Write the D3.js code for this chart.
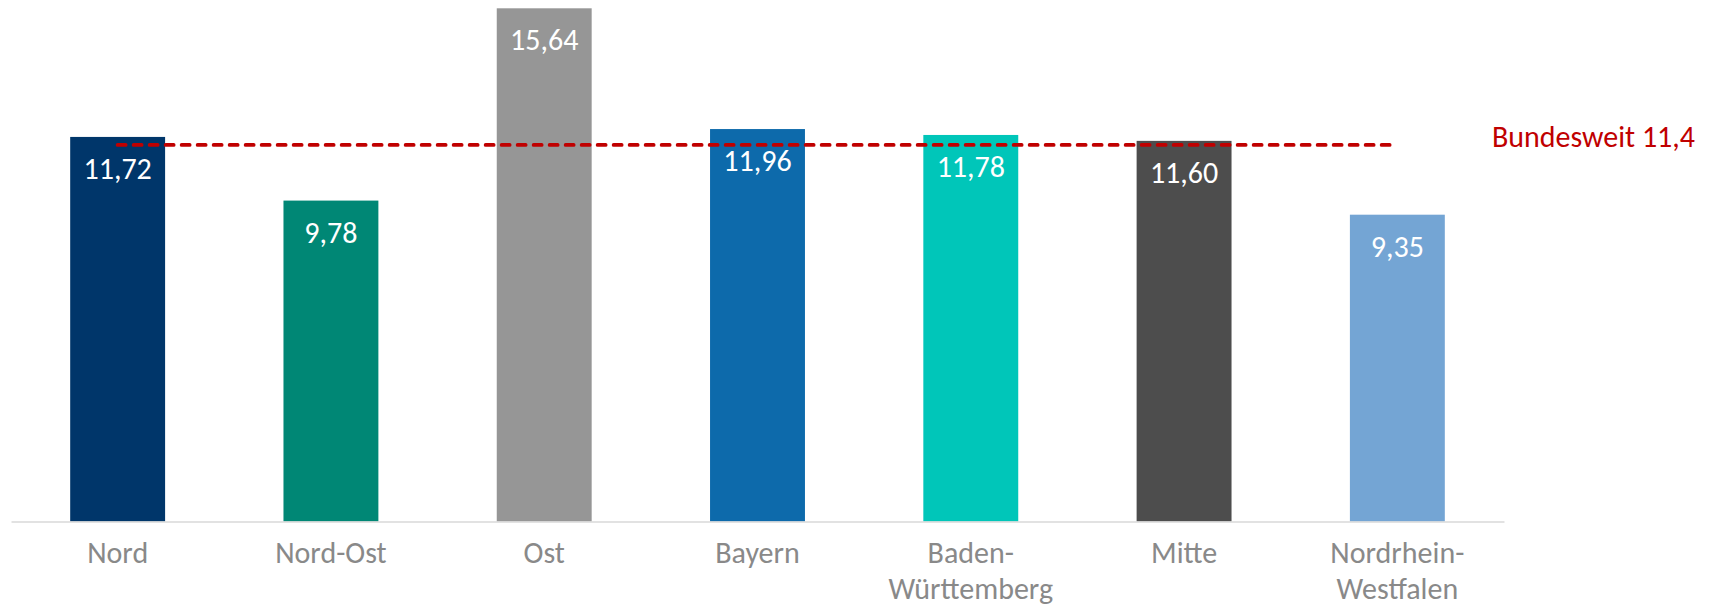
<!DOCTYPE html>
<html>
<head>
<meta charset="utf-8">
<script src="https://cdn.jsdelivr.net/npm/d3@7"></script>
<style>
    body { margin: 0; background: #fff; }
    svg { display: block; font-family: Carlito, Calibri, Lato, sans-serif; }
</style>
</head>
<body>
<svg id="chart"></svg>
<script>
// data
const regions = ["Nord", "Nord-Ost", "Ost", "Bayern", "Baden-\nWürttemberg", "Mitte", "Nordrhein-\nWestfalen"];
const values = [11.72, 9.78, 15.64, 11.96, 11.78, 11.60, 9.35];
const barColors = ["#00366a", "#008775", "#969696", "#0d6aab", "#00c6b9", "#4d4d4d", "#74a5d4"];
const nationalAvg = 11.4;
const nationalLabel = "Bundesweit 11,4";

const width = 1715, height = 608;
const baseY = 521.5;

const svg = d3.select("#chart")
    .attr("width", width)
    .attr("height", height);

const xScale = d3.scaleBand()
    .domain(regions)
    .range([11, 1504])
    .paddingInner(0.555)
    .paddingOuter(0.2775);

const yScale = d3.scaleLinear()
    .domain([0, 15.64])
    .range([baseY, 8.3]);

const fmt = v => d3.format(".2f")(v).replace(".", ",");

// bars
svg.append("g")
    .selectAll("rect")
    .data(values)
    .join("rect")
    .attr("x", (d, i) => xScale(regions[i]))
    .attr("y", d => yScale(d))
    .attr("width", xScale.bandwidth())
    .attr("height", d => baseY - yScale(d))
    .attr("fill", (d, i) => barColors[i]);

// x axis (just the light baseline, labels drawn separately)
const xAxis = d3.axisBottom(xScale)
    .tickSize(0)
    .tickSizeOuter(0)
    .tickFormat("");

const axisG = svg.append("g")
    .attr("transform", `translate(0,${baseY})`)
    .call(xAxis);
axisG.select(".domain")
    .attr("stroke", "#d9d9d9")
    .attr("stroke-width", 1.6);

// category labels, can wrap on two lines
const labelG = svg.append("g")
    .selectAll("text")
    .data(regions)
    .join("text")
    .attr("x", d => xScale(d) + xScale.bandwidth() / 2)
    .attr("y", 563)
    .attr("text-anchor", "middle")
    .attr("fill", "#898989")
    .style("font-size", "30px");

labelG.selectAll("tspan")
    .data(d => d.split("\n"))
    .join("tspan")
    .attr("x", function () { return d3.select(this.parentNode).attr("x"); })
    .attr("dy", (d, i) => i === 0 ? 0 : 36)
    .text(d => d);

// average line
const firstX = xScale(regions[0]) + xScale.bandwidth() / 2;
const lastX = xScale(regions[regions.length - 1]) + xScale.bandwidth() / 2;

svg.append("line")
    .attr("x1", firstX)
    .attr("x2", lastX)
    .attr("y1", yScale(nationalAvg) - 2.5)
    .attr("y2", yScale(nationalAvg) - 2.5)
    .attr("stroke", "#c00000")
    .attr("stroke-width", 3.8)
    .attr("stroke-linecap", "round")
    .attr("stroke-dasharray", "8,8");

svg.append("text")
    .attr("x", 1695)
    .attr("y", 147.3)
    .attr("text-anchor", "end")
    .attr("fill", "#c00000")
    .style("font-size", "30px")
    .text(nationalLabel);

// value labels inside bar tops
svg.append("g")
    .selectAll("text")
    .data(values)
    .join("text")
    .attr("x", (d, i) => xScale(regions[i]) + xScale.bandwidth() / 2)
    .attr("y", d => yScale(d) + 42)
    .attr("text-anchor", "middle")
    .attr("fill", "#ffffff")
    .style("font-size", "30px")
    .text(d => fmt(d));
</script>
</body>
</html>
